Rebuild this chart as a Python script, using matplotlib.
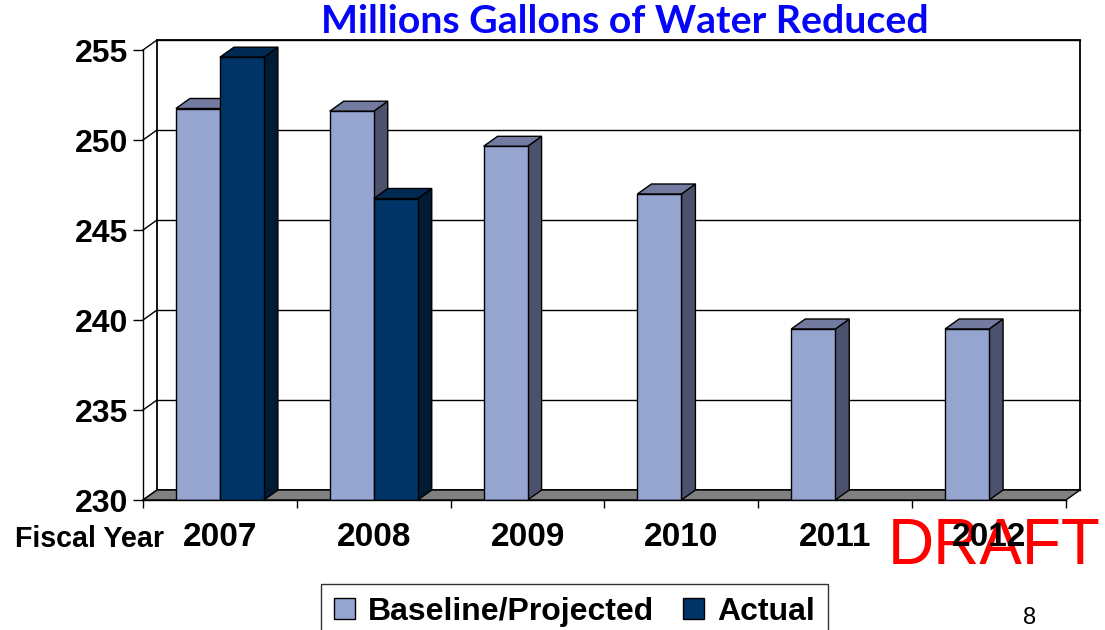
import matplotlib
matplotlib.use("Agg")
import matplotlib.pyplot as plt
from matplotlib.patches import Polygon, Patch
import numpy as np

# ---- data ----
years = ["2007", "2008", "2009", "2010", "2011", "2012"]
baseline = [251.75, 251.6, 249.65, 247.0, 239.5, 239.5]
actual = [254.6, 246.75, np.nan, np.nan, np.nan, np.nan]
y_ticks = [230, 235, 240, 245, 250, 255]
series_names = ["Baseline/Projected", "Actual"]

# ---- style ----
W, H, DPI = 1105, 630, 100
FONT = "Liberation Sans"
base_front, base_side, base_top = "#96A5D0", "#4C526E", "#737CA0"
act_front, act_side, act_top = "#003366", "#011B35", "#002A52"
floor_col = "#808080"
ymin, ymax = 230, 255
bar_w = 0.286
depth_px = (14, 10)  # oblique depth offset in pixels (right, up)

fig = plt.figure(figsize=(W / DPI, H / DPI), dpi=DPI)
left_px, right_px, top_px, bot_px = 143, 1066, 50, 500
ax = fig.add_axes([left_px / W, 1 - bot_px / H, (right_px - left_px) / W, (bot_px - top_px) / H])
ax.patch.set_visible(False)
ax.set_xlim(-0.5, len(years) - 0.5)
ax.set_ylim(ymin, ymax)

# depth offset expressed in data units
dx = depth_px[0] / ((right_px - left_px) / len(years))
dy = depth_px[1] / ((bot_px - top_px) / (ymax - ymin))
x0, x1 = -0.5, len(years) - 0.5

def poly(pts, fc, ec="black", lw=1.0, z=1):
    p = Polygon(pts, closed=True, facecolor=fc, edgecolor=ec, linewidth=lw,
                zorder=z, clip_on=False, joinstyle="miter")
    ax.add_patch(p)

# back wall
poly([(x0 + dx, ymin + dy), (x1 + dx, ymin + dy), (x1 + dx, ymax + dy), (x0 + dx, ymax + dy)],
     "white", lw=1.3, z=0.2)
# gridlines on the back wall and depth connectors from the value axis
for v in y_ticks:
    ax.plot([x0 + dx, x1 + dx], [v + dy, v + dy], color="black", lw=1.0, zorder=0.3, clip_on=False)
    ax.plot([x0, x0 + dx], [v, v + dy], color="black", lw=1.0, zorder=0.3, clip_on=False)
# floor
poly([(x0, ymin), (x1, ymin), (x1 + dx, ymin + dy), (x0 + dx, ymin + dy)], floor_col, lw=1.0, z=0.5)

# bars with oblique side and top faces
xs = np.arange(len(years))
series = [(baseline, xs - bar_w, base_front, base_side, base_top),
          (actual, xs, act_front, act_side, act_top)]
z = 1.0
for i in range(len(years)):
    for vals, lefts, fc, sc, tc in series:
        v = vals[i]
        if np.isnan(v):
            continue
        xl = lefts[i]
        xr = xl + bar_w
        poly([(xr, ymin), (xr + dx, ymin + dy), (xr + dx, v + dy), (xr, v)], sc, z=z)
        poly([(xl, v), (xr, v), (xr + dx, v + dy), (xl + dx, v + dy)], tc, z=z)
        ax.bar([xl], [v - ymin], bottom=ymin, width=bar_w, align="edge",
               color=fc, edgecolor="black", linewidth=1.0, zorder=z + 0.05)
        z += 0.1

# axes: value axis on the front-left edge, category axis along the floor front
for s in ["top", "right"]:
    ax.spines[s].set_visible(False)
ax.spines["left"].set_linewidth(1.0)
ax.spines["bottom"].set_linewidth(1.0)
ax.spines["left"].set_zorder(3)
ax.spines["bottom"].set_zorder(3)
ax.set_yticks(y_ticks)
ax.set_yticklabels([str(t) for t in y_ticks], fontfamily=FONT, fontweight="bold", fontsize=23)
ax.tick_params(axis="y", direction="out", length=7.2, width=1.0, pad=3.6)
ax.set_xticks(xs)
ax.set_xticklabels(years, fontfamily=FONT, fontweight="bold", fontsize=24)
ax.set_xticks(np.arange(len(years) + 1) - 0.5, minor=True)
ax.tick_params(axis="x", which="major", length=0, pad=16)
ax.tick_params(axis="x", which="minor", direction="out", length=5.8, width=1.0)

# stamp placed beneath the axes so the category labels stay on top of it
fig.text(888 / W, 1 - 564 / H, "DRAFT", color="#FF0000", fontfamily=FONT, fontsize=46,
         ha="left", va="baseline", zorder=-1)

fig.text(15 / W, 1 - 547 / H, "Fiscal Year", fontfamily=FONT, fontweight="bold",
         fontsize=20.6, ha="left", va="baseline")
fig.text(625 / W, 1 - 33 / H, "Millions Gallons of Water Reduced", fontfamily="Lato",
         fontweight="bold", fontsize=28.3, color="#0505F8", ha="center", va="baseline")
fig.text(1030 / W, 1 - 624 / H, "8", fontfamily=FONT, fontsize=17, ha="center", va="baseline")

handles = [Patch(facecolor=base_front, edgecolor="black", linewidth=1.0),
           Patch(facecolor=act_front, edgecolor="black", linewidth=1.0)]
leg = fig.legend(handles, series_names, loc="upper left", bbox_to_anchor=(321 / W, 1 - 584 / H),
                 ncol=2, frameon=True, fancybox=False, borderaxespad=0, borderpad=0.4,
                 handlelength=0.66, handleheight=0.66, handletextpad=0.42, columnspacing=0.9,
                 prop={"family": FONT, "weight": "bold", "size": 23})
leg.get_frame().set_edgecolor("black")
leg.get_frame().set_linewidth(1.0)

fig.savefig("out.png", dpi=DPI)
